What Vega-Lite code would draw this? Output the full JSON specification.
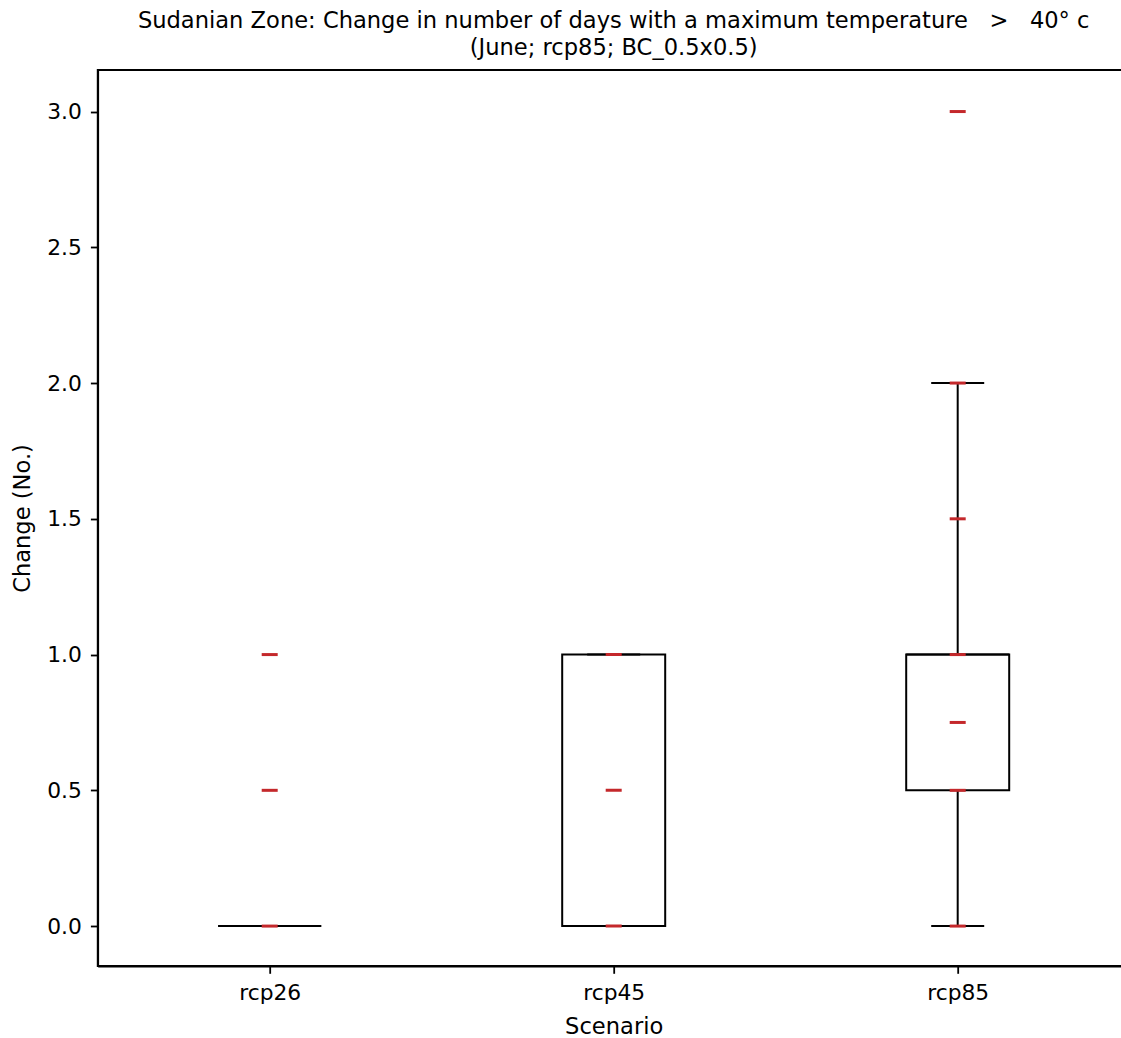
{
  "$schema": "https://vega.github.io/schema/vega-lite/v6.json",
  "autosize": {"type": "none"},
  "width": 1025,
  "height": 896,
  "padding": {"left": 97.7, "top": 70, "right": 0, "bottom": 72},
  "background": "white",
  "datasets": {
    "summary": [
      {"scenario": "rcp26", "lower": 0, "q1": 0, "median": 0, "q3": 0, "upper": 0},
      {"scenario": "rcp45", "lower": 0, "q1": 0, "median": 0, "q3": 1, "upper": 1},
      {"scenario": "rcp85", "lower": 0, "q1": 0.5, "median": 1, "q3": 1, "upper": 2}
    ],
    "points": [
      {"scenario": "rcp26", "value": 0},
      {"scenario": "rcp26", "value": 0.5},
      {"scenario": "rcp26", "value": 1},
      {"scenario": "rcp45", "value": 0},
      {"scenario": "rcp45", "value": 0.5},
      {"scenario": "rcp45", "value": 1},
      {"scenario": "rcp85", "value": 0},
      {"scenario": "rcp85", "value": 0.5},
      {"scenario": "rcp85", "value": 0.75},
      {"scenario": "rcp85", "value": 1},
      {"scenario": "rcp85", "value": 1.5},
      {"scenario": "rcp85", "value": 2},
      {"scenario": "rcp85", "value": 3}
    ]
  },
  "title": {
    "text": ["Sudanian Zone: Change in number of days with a maximum temperature \u00a0 > \u00a0 40° c", "(June; rcp85; BC_0.5x0.5)"],
    "font": "DejaVu Sans",
    "fontSize": 22.6,
    "fontWeight": "normal",
    "color": "black",
    "lineHeight": 27,
    "offset": 10,
    "dx": 3.5
  },
  "config": {
    "font": "DejaVu Sans",
    "view": {"stroke": "black", "strokeWidth": 1.8}
  },
  "encoding": {
    "x": {
      "field": "scenario",
      "type": "nominal",
      "sort": ["rcp26", "rcp45", "rcp85"],
      "scale": {"type": "point", "domain": ["rcp26", "rcp45", "rcp85"], "padding": 0.4898, "align": 0.5104, "round": false},
      "axis": {
        "title": "Scenario",
        "titleX": 516,
        "titleFontSize": 22.6,
        "titleFontWeight": "normal",
        "titleColor": "black",
        "titlePadding": 11,
        "labelAngle": 0,
        "labelFontSize": 21.8,
        "labelColor": "black",
        "labelPadding": 9,
        "tickSize": 7.3,
        "tickWidth": 1.8,
        "tickColor": "black",
        "domainColor": "black",
        "domainWidth": 1.8
      }
    }
  },
  "layer": [
    {
      "data": {"name": "summary"},
      "mark": {"type": "rule", "color": "black", "strokeWidth": 2},
      "encoding": {
        "y": {
          "field": "lower",
          "type": "quantitative",
          "scale": {"domain": [-0.147, 3.153], "nice": false, "zero": false},
          "axis": {
            "title": "Change (No.)",
            "values": [0, 0.5, 1, 1.5, 2, 2.5, 3],
            "format": ".1f",
            "grid": false,
            "titleFontSize": 22.6,
            "titleFontWeight": "normal",
            "titleColor": "black",
            "titlePadding": 12,
            "labelFontSize": 21.8,
            "labelColor": "black",
            "labelPadding": 9,
            "tickSize": 7.3,
            "tickWidth": 1.8,
            "tickColor": "black",
            "domainColor": "black",
            "domainWidth": 1.8
          }
        },
        "y2": {"field": "upper"}
      }
    },
    {
      "data": {"name": "summary"},
      "mark": {"type": "bar", "width": 103, "fill": "white", "stroke": "black", "strokeWidth": 2},
      "encoding": {
        "y": {"field": "q1", "type": "quantitative"},
        "y2": {"field": "q3"}
      }
    },
    {
      "data": {"name": "summary"},
      "mark": {"type": "tick", "color": "black", "size": 103, "thickness": 2, "opacity": 1},
      "encoding": {
        "y": {"field": "median", "type": "quantitative"}
      }
    },
    {
      "data": {"name": "summary"},
      "mark": {"type": "tick", "color": "black", "size": 53, "thickness": 2, "opacity": 1},
      "encoding": {
        "y": {"field": "lower", "type": "quantitative"}
      }
    },
    {
      "data": {"name": "summary"},
      "mark": {"type": "tick", "color": "black", "size": 53, "thickness": 2, "opacity": 1},
      "encoding": {
        "y": {"field": "upper", "type": "quantitative"}
      }
    },
    {
      "data": {"name": "points"},
      "mark": {"type": "tick", "color": "#c4282b", "size": 16, "thickness": 3, "opacity": 1},
      "encoding": {
        "y": {"field": "value", "type": "quantitative"}
      }
    }
  ]
}
